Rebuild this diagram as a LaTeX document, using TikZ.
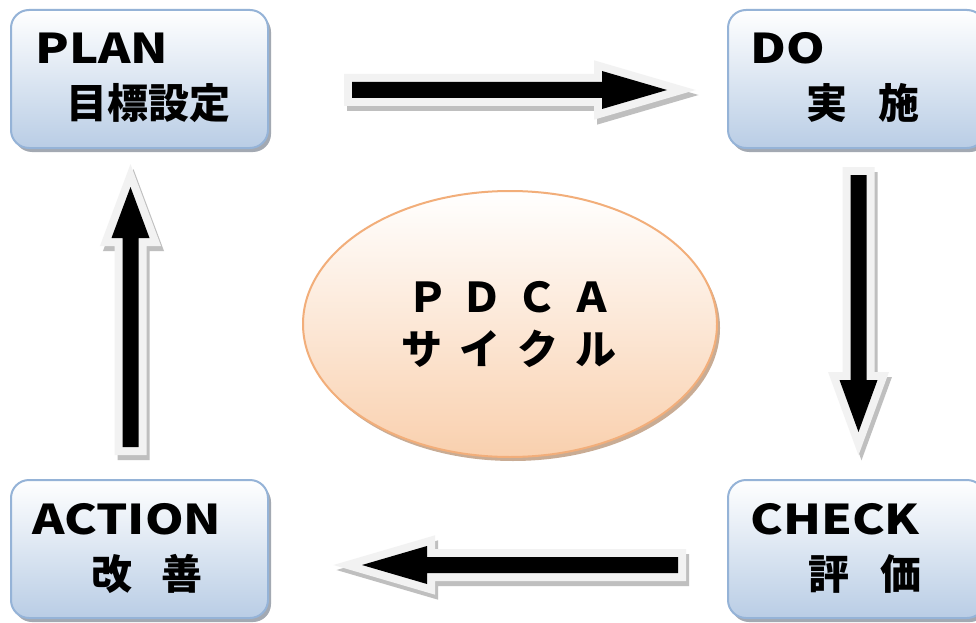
\documentclass[tikz,border=0pt]{standalone}
\usepackage{fontspec}
\setmainfont{Noto Sans CJK JP}
\newfontfamily\latinwide{Noto Sans CJK JP}[FakeStretch=1.2]
\usetikzlibrary{calc,shapes.geometric}
\definecolor{boxbot}{HTML}{B9CDE5}
\definecolor{boxline}{HTML}{95B3D7}
\definecolor{boxshadow}{HTML}{A3A9B2}
\definecolor{ellbot}{HTML}{F9D0AE}
\definecolor{ellline}{HTML}{F2AE7A}
\definecolor{ellshadow}{HTML}{C9AC94}
\definecolor{arrowrim}{HTML}{F2F2F2}
\definecolor{arrowshadow}{HTML}{BFBFBF}
\newcommand{\pdcaarrowpath}[2]{(0,-8) -- ({#1-#2},-8) -- ({#1-#2},-19) -- (#1,0) -- ({#1-#2},19) -- ({#1-#2},8) -- (0,8) -- cycle}
\newcommand{\pdcaarrow}[4]{%
  \begin{scope}[shift={($(#1)+(3,5)$)}, rotate=#2]
    \filldraw[draw=arrowshadow, fill=arrowshadow, line width=16pt, line join=miter] \pdcaarrowpath{#3}{#4};
  \end{scope}
  \begin{scope}[shift={(#1)}, rotate=#2]
    \filldraw[draw=arrowrim, fill=arrowrim, line width=16pt, line join=miter] \pdcaarrowpath{#3}{#4};
    \fill[black] \pdcaarrowpath{#3}{#4};
  \end{scope}}
\begin{document}
\begin{tikzpicture}[x=1pt, y=-1pt,
  stagebox/.style={rectangle, rounded corners=18pt, minimum width=257pt, minimum height=138pt,
    top color=white, bottom color=boxbot, draw=boxline, line width=2pt, inner sep=0pt},
  stageshadow/.style={rectangle, rounded corners=18pt, minimum width=257pt, minimum height=138pt,
    fill=boxshadow, inner sep=0pt},
  lbl/.style={font=\fontsize{41}{41}\selectfont\bfseries, inner sep=0pt, text=black},
  latinlbl/.style={font=\fontsize{41}{41}\selectfont\latinwide\bfseries, inner sep=0pt, text=black}]
\useasboundingbox (0,0) rectangle (976,623);
\fill[white] (0,0) rectangle (976,623);
% boxes
\node[stageshadow] (plans) at (142.5,83) {};
\node[stagebox] (plan) at (139.5,79) {};
\node[stageshadow] (dos) at (859.5,83) {};
\node[stagebox] (do) at (856.5,79) {};
\node[stageshadow] (checks) at (859.5,553) {};
\node[stagebox] (check) at (856.5,549) {};
\node[stageshadow] (actions) at (142.5,553) {};
\node[stagebox] (action) at (139.5,549) {};
% labels
\node[latinlbl, anchor=base west] (plant1) at (35,64) {PLAN};
\node[lbl, anchor=base west] (plant2) at (66,118) {目標設定};
\node[latinlbl, anchor=base west] (dot1) at (750,64) {DO};
\node[lbl, anchor=base west] (dot2) at (806,118) {実\hspace{31pt}施};
\node[latinlbl, anchor=base west] (checkt1) at (750,534) {CHECK};
\node[lbl, anchor=base west] (checkt2) at (808,589) {評\hspace{31pt}価};
\node[latinlbl, anchor=base west] (actiont1) at (32,534) {ACTION};
\node[lbl, anchor=base west] (actiont2) at (91,589) {改\hspace{29pt}善};
% center ellipse
\node[ellipse, fill=ellshadow, minimum width=414pt, minimum height=266pt, inner sep=0pt] (cycs) at (513,328) {};
\node[ellipse, top color=white, bottom color=ellbot, draw=ellline, line width=2pt,
  minimum width=414pt, minimum height=266pt, inner sep=0pt] (cyc) at (510,324) {};
\node[lbl, anchor=base] (pdca) at (510,312) {Ｐ\hspace{14pt}Ｄ\hspace{14pt}Ｃ\hspace{14pt}Ａ};
\node[lbl, anchor=base] (cycle) at (509,364) {サ\hspace{17pt}イ\hspace{17pt}ク\hspace{17pt}ル};
% arrows
\coordinate (a1) at (352,90);
\coordinate (a2) at (858.5,175);
\coordinate (a3) at (678,565);
\coordinate (a4) at (130.5,447);
\pdcaarrow{a1}{0}{315}{65}
\pdcaarrow{a2}{-90}{257}{52}
\pdcaarrow{a3}{180}{316}{65}
\pdcaarrow{a4}{90}{260}{51}
\end{tikzpicture}
\end{document}
